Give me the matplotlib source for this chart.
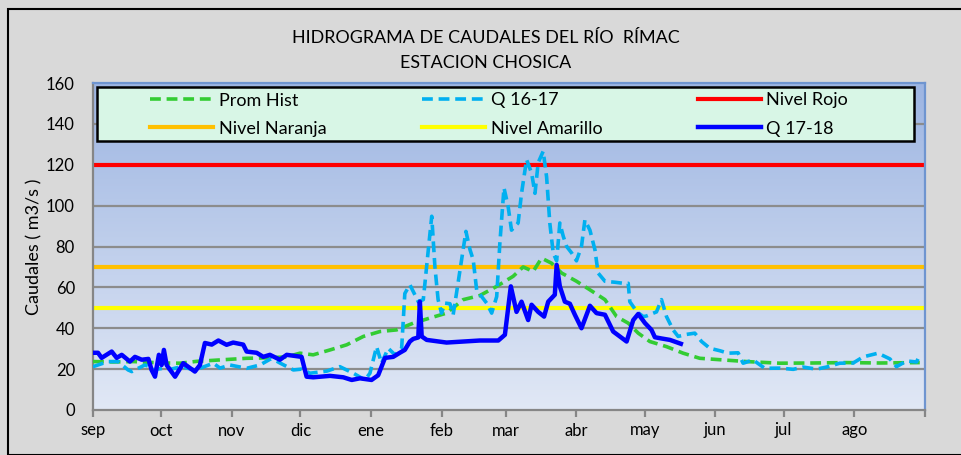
import matplotlib
matplotlib.use("Agg")
import matplotlib.pyplot as plt
import numpy as np
from matplotlib.patches import Rectangle
from matplotlib.colors import LinearSegmentedColormap

# ---- data (days since 1 Sep) ----
month_labels = ['sep', 'oct', 'nov', 'dic', 'ene', 'feb', 'mar', 'abr', 'may', 'jun', 'jul', 'ago', '']
month_days = [0, 30, 61, 91, 122, 153, 181, 212, 242, 273, 303, 334, 365]

q1718_days = [0, 2.2, 3.8, 8.2, 10.4, 12.6, 16.2, 18.4, 21.4, 24.3, 25.7, 27.2, 28.9, 30.1, 31.1, 32.3,
              36, 39.6, 44.7, 46.9, 49.1, 52.1, 55, 58.6, 61.5, 65.9, 67.4, 71.8, 74.7, 77.6, 82, 85,
              91.5, 93.7, 96.6, 104, 109.8, 113.5, 117.1, 122.2, 125.1, 128.1, 131.7, 134.6, 136.8,
              139, 140.5, 142.7, 143.4, 144.2, 146.4, 155.1, 169.7, 177.8, 180.7, 183.3, 185.8, 188,
              190.9, 192.4, 195.3, 197.9, 199.7, 202.6, 203.4, 204.8, 207, 209.2, 211.4, 214.3, 218,
              220.9, 224.6, 228.2, 231.1, 234.1, 237, 239.2, 242.1, 245, 246.5, 249.4, 253.1, 257.9]
q1718_vals = [28, 28, 25.5, 28.6, 25.5, 27, 23.7, 26, 24.6, 25, 19.6, 16.3, 27, 22, 29.4, 22,
              16.3, 22.9, 18.8, 22, 32.8, 32, 34, 31.9, 33, 32, 28.6, 28, 26, 27, 24.6, 27,
              26, 16.3, 16, 16.7, 16, 14.7, 15.5, 14.7, 17, 25.5, 26, 28, 29.4,
              33.5, 34.8, 35.5, 53, 36, 34.3, 33, 34, 34, 36.8, 60.5, 48, 53,
              44, 51.5, 48, 45.7, 53, 56.4, 71, 60.5, 53, 52, 46.6, 40, 51,
              47.4, 46.6, 38.4, 36, 33.5, 44, 47, 42.6, 39.2, 35.6, 35, 34.3, 32.4]

q1617_days = [0, 6.6, 8.9, 11, 15.4, 17, 22.7, 25, 25.6, 30.8, 34.3, 38.7, 44.6, 46.9, 52.8, 55.7,
              60.1, 67.4, 73.2, 78.4, 82, 87.9, 91.5, 95.2, 102.5, 108.3, 114.2, 119.3, 121.5, 124.4,
              126.6, 129.5, 132.5, 135.4, 136.8, 139, 141.2, 142.7, 144.9, 147.1, 148.6, 150, 151.4,
              152.9, 154.4, 156.6, 158, 159.5, 161.7, 163.6, 165.4, 166.8, 168.3, 170.5, 172.7, 174.9,
              177.1, 178.5, 180.3, 182.1, 183.6, 186.5, 188, 190.2, 192.4, 193.9, 195.3, 197.5, 199,
              200.4, 201.9, 203.4, 204.8, 206.3, 207.8, 210, 212.1, 214.3, 215.8, 218, 220.2, 221.6,
              224.6, 229, 232.6, 234.8, 235.5, 238.5, 241.4, 242.8, 247.2, 249.4, 251.6, 254.5, 256.7,
              260.4, 264, 267, 270.6, 275, 278.6, 283, 285.2, 289.6, 294.7, 301.3, 307.2, 311.5, 317.4,
              321.8, 327.6, 333.5, 337.9, 344.4, 349.6, 352.5, 356.9, 361.3, 362.7]
q1617_vals = [21.2, 23.7, 23.7, 23.7, 19.6, 18.8, 22, 21.2, 19.6, 20.4, 20, 21.2, 19.6, 20.4, 22.9, 20.5,
              22, 20.4, 22, 25.3, 23, 19.6, 20, 18, 19, 21.2, 18, 14.7, 18, 31,
              22.9, 30.2, 27, 30.2, 57, 61.3, 56.4, 53, 54, 78.4, 94.8, 70, 54,
              47.4, 52.3, 52, 46.6, 57.4, 73.5, 87.4, 78.4, 73.5, 58.8, 55.5, 52.3, 47.4,
              55.5, 81.8, 108.7, 99.7, 88, 91.5, 106, 122.5, 116, 106, 121, 126.6, 114,
              91.5, 76.8, 73, 91.5, 85, 80, 76.8, 73, 80, 93, 88, 78.4, 67,
              63, 62.5, 62, 62, 53, 48.2, 45.7, 46, 48, 54, 45.7, 39.2, 36,
              37, 37.6, 33.5, 30.2, 29, 27.8, 28, 22.9, 24.5, 20.4, 20.5, 19.9, 21, 20,
              21, 22.9, 23, 26, 27.8, 25, 21.2, 24, 23.5, 27]

prom_days = [0, 8.9, 17.7, 30.8, 38.2, 45.5, 55.7, 67.4, 76.2, 85, 90.8, 96.6, 104, 111.3, 118.6, 125.9,
             133.2, 140.5, 147.8, 155.1, 162.4, 169.7, 177.1, 184.3, 188.7, 193.1, 196.8, 201.2, 205.6,
             212.1, 218, 224.6, 229.7, 234.8, 239.2, 244.3, 251.6, 258.9, 266.2, 276.4, 286.7, 301.3,
             315.9, 330.6, 345.2, 362.7]
prom_vals = [23.7, 23.5, 23.7, 23, 22.9, 23.8, 24.5, 25.3, 25.5, 26, 27.8, 27, 29.4, 31.9, 36, 38.4,
             39.2, 42.5, 45, 47.4, 54, 56, 60.5, 65.4, 70, 67.8, 74.3, 71.8, 67,
             63, 58.8, 54, 45.7, 42.5, 37.6, 33.5, 31, 27.8, 25.3, 24.5, 23.7, 22.9,
             23, 23.2, 23, 23.2]

nivel_rojo = 120
nivel_naranja = 70
nivel_amarillo = 50

# ---- figure ----
W, H = 961, 455
fnt = 'Lato'
fig = plt.figure(figsize=(W / 100, H / 100), dpi=100)
fig.patch.set_facecolor('#d9d9d9')
fig.patches.append(Rectangle((8 / W, 0), 1.2, 1 - 9 / H, transform=fig.transFigure,
                             fill=False, edgecolor='black', linewidth=1.5, zorder=10))

AX_L, AX_R, AX_T, AX_B = 93, 925, 83, 410
ax = fig.add_axes([AX_L / W, 1 - AX_B / H, (AX_R - AX_L) / W, (AX_B - AX_T) / H])
ax.set_xlim(0, 365)
ax.set_ylim(0, 160)

def axx(px):
    return (px - AX_L) / (AX_R - AX_L)

def axy(py):
    return (AX_B - py) / (AX_B - AX_T)

# gradient background
grad = np.linspace(0, 1, 256).reshape(-1, 1)
cmap = LinearSegmentedColormap.from_list('bg', ['#e1e8f5', '#9db5e2'])
ax.imshow(grad, cmap=cmap, aspect='auto', extent=[0, 1, 0, 1], transform=ax.transAxes,
          origin='lower', zorder=0)

for v in range(20, 160, 20):
    ax.axhline(v, color='#8c8c8c', linewidth=1.6, zorder=1)

ax.plot(prom_days, prom_vals, color='#33cc33', linestyle=(0, (3, 1.6)), linewidth=2.6,
        label='Prom Hist', zorder=3)
ax.plot(q1617_days, q1617_vals, color='#00b0f0', linestyle=(0, (3, 1.6)), linewidth=2.6,
        label='Q 16-17', zorder=3)
ax.axhline(nivel_rojo, color='#ff0000', linewidth=3, label='Nivel Rojo', zorder=2)
ax.axhline(nivel_naranja, color='#ffc000', linewidth=3, label='Nivel Naranja', zorder=2)
ax.axhline(nivel_amarillo, color='#ffff00', linewidth=3, label='Nivel Amarillo', zorder=2)
ax.plot(q1718_days, q1718_vals, color='#0000ff', linewidth=3.2, label='Q 17-18', zorder=4)

# spines
for s in ['left', 'bottom']:
    ax.spines[s].set_color('#868686')
    ax.spines[s].set_linewidth(1.6)
for s in ['top', 'right']:
    ax.spines[s].set_color('#6f95d0')
    ax.spines[s].set_linewidth(1.6)

ax.set_xticks(month_days)
ax.set_xticklabels(month_labels, fontsize=12, family=fnt)
ax.set_yticks(range(0, 161, 20))
ax.set_yticklabels([str(v) for v in range(0, 161, 20)], fontsize=12, family=fnt)
ax.tick_params(axis='x', direction='out', length=5, color='#868686', width=1.6, pad=4)
ax.tick_params(axis='y', length=0, pad=13)
ax.set_ylabel('Caudales ( m3/s )', fontsize=13, family=fnt)
ax.yaxis.set_label_coords(axx(42), 0.5)

# legend frame + legend
ax.add_patch(Rectangle((axx(97), axy(141)), axx(914) - axx(97), axy(87) - axy(141),
                       transform=ax.transAxes, facecolor='#d8f6e6', edgecolor='black',
                       linewidth=1.8, zorder=5))
handles, labels = ax.get_legend_handles_labels()
order = ['Prom Hist', 'Nivel Naranja', 'Q 16-17', 'Nivel Amarillo', 'Nivel Rojo', 'Q 17-18']
hmap = dict(zip(labels, handles))
leg = ax.legend([hmap[k] for k in order], order, ncol=3,
                bbox_to_anchor=(axx(150), axy(92.5)), loc='upper left', borderaxespad=0,
                borderpad=0, frameon=False, prop={'family': fnt, 'size': 13},
                handlelength=3.5, handletextpad=0.3, labelspacing=0.68, columnspacing=5.3)
leg.set_zorder(6)

fig.text(486 / W, 1 - 38 / H, 'HIDROGRAMA DE CAUDALES DEL RÍO  RÍMAC', ha='center', va='center',
         fontsize=12.9, family=fnt)
fig.text(486 / W, 1 - 63 / H, 'ESTACION CHOSICA', ha='center', va='center',
         fontsize=12.9, family=fnt)

fig.savefig('out.png', dpi=100, facecolor=fig.get_facecolor())
